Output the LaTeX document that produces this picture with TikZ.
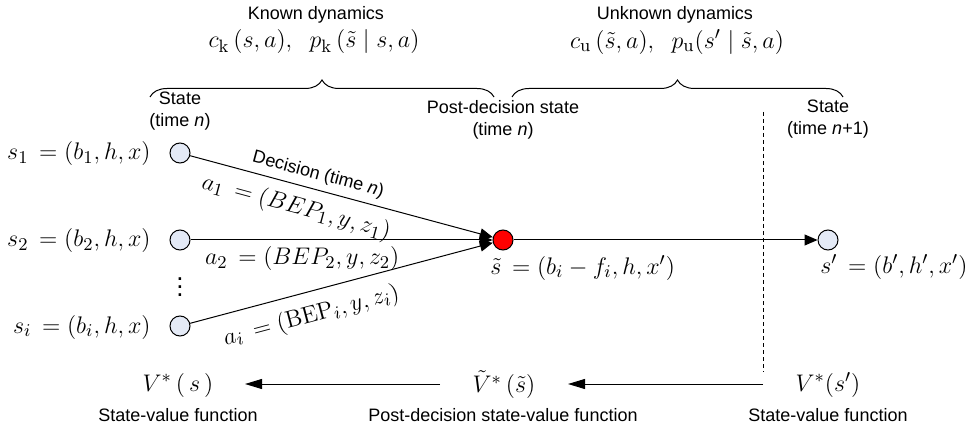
\documentclass[tikz,border=0pt]{standalone}
\usepackage[no-math]{fontspec}
\setmainfont{Liberation Sans}
\usetikzlibrary{arrows.meta,decorations.pathreplacing}
\definecolor{nodefill}{RGB}{228,234,246}
\begin{document}
\begin{tikzpicture}[x=0.5pt,y=-0.5pt,
  txt/.style={font=\fontsize{9}{11}\selectfont, inner sep=0pt, align=center},
  mth/.style={font=\fontsize{13}{15}\selectfont, inner sep=0pt},
  st/.style={circle, draw=black, line width=0.5pt, fill=nodefill, minimum size=10pt, inner sep=0pt},
  conn/.style={line width=0.5pt, -{Triangle[length=6.5pt,width=5.5pt]}},
  back/.style={line width=0.5pt, -{Triangle[length=8.5pt,width=5pt]}},
  br/.style={decorate, decoration={brace, amplitude=8.5pt}, line width=0.5pt}]
\useasboundingbox (0,0) rectangle (974,427);

% top: dynamics
\node[txt] (kd) at (316,15) {Known dynamics};
\node[mth] (km) at (314,42) {$c_{\mathrm{k}}\,(s,a),\;\; p_{\mathrm{k}}\,(\tilde{s}\mid s,a)$};
\node[txt] (ud) at (675,15) {Unknown dynamics};
\node[mth] (um) at (677,42) {$c_{\mathrm{u}}\,(\tilde{s},a),\;\; p_{\mathrm{u}}\bigl(s'\mid \tilde{s},a\bigr)$};
\coordinate (b1a) at (150,97);
\coordinate (b1b) at (494,97);
\coordinate (b2a) at (512,97);
\coordinate (b2b) at (843,97);
\draw[br] (b1a) -- (b1b);
\draw[br] (b2a) -- (b2b);

% headings
\node[txt] (hs) at (180,111) {State\\(time \textit{n})};
\node[txt] (hp) at (503,120) {Post-decision state\\(time \textit{n})};
\node[txt] (hn) at (828,119) {State\\(time \textit{n}+1)};

% state nodes
\node[st] (s1) at (180,153) {};
\node[st] (s2) at (180,240) {};
\node[st] (si) at (180,326) {};
\node[st, fill=red] (pd) at (503,240) {};
\node[st] (sp) at (828,240) {};

\node[mth, anchor=east] (l1) at (151,154) {$s_1\, = (b_1,h,x)$};
\node[mth, anchor=east] (l2) at (151,241) {$s_2\, = (b_2,h,x)$};
\node[mth, anchor=east] (li) at (151,327) {$s_i\, = (b_i,h,x)$};
\node[mth] (vd) at (180,281) {$\vdots$};
\node[mth, anchor=west] (lpd) at (490,268) {$\tilde{s}\, = \bigl(b_i - f_i, h, x'\bigr)$};
\node[mth, anchor=west] (lsp) at (820,267) {$s'\, = \bigl(b', h', x'\bigr)$};

% decisions
\draw[conn] (s1) -- (pd)
  node[pos=0.41, sloped, above=3pt, txt] (dec) {Decision (time \textit{n})}
  node[pos=0.37, sloped, below=5pt, mth] (a1) {$a_1\, = (BEP_1, y, z_1)$};
\draw[conn] (s2) -- (pd)
  node[pos=0.37, below=3pt, mth] (a2) {$a_2\, = (BEP_2, y, z_2)$};
\draw[conn] (si) -- (pd)
  node[pos=0.38, sloped, below=6pt, mth] (ai) {$a_i\, = (\mathrm{BEP}_i, y, z_i)$};
\draw[conn] (pd) -- (sp);

% dashed separator
\coordinate (dtop) at (763,112);
\coordinate (dbot) at (763,372);
\draw[line width=0.5pt, dash pattern=on 2pt off 1.5pt] (dtop) -- (dbot);

% value functions
\node[mth] (v1) at (178,385) {$V^{*}\,(\,s\,)$};
\node[mth] (v2) at (504,385) {$\tilde{V}^{*}\,(\tilde{s})$};
\node[mth] (v3) at (828,385) {$V^{*}\bigl(s'\bigr)$};
\coordinate (a2s) at (440,384);
\coordinate (a2e) at (245,384);
\coordinate (a3s) at (763,384);
\coordinate (a3e) at (568,384);
\draw[back] (a2s) -- (a2e);
\draw[back] (a3s) -- (a3e);
\node[txt] (f1) at (178,415) {State-value function};
\node[txt] (f2) at (503,415) {Post-decision state-value function};
\node[txt] (f3) at (828,415) {State-value function};
\end{tikzpicture}
\end{document}
